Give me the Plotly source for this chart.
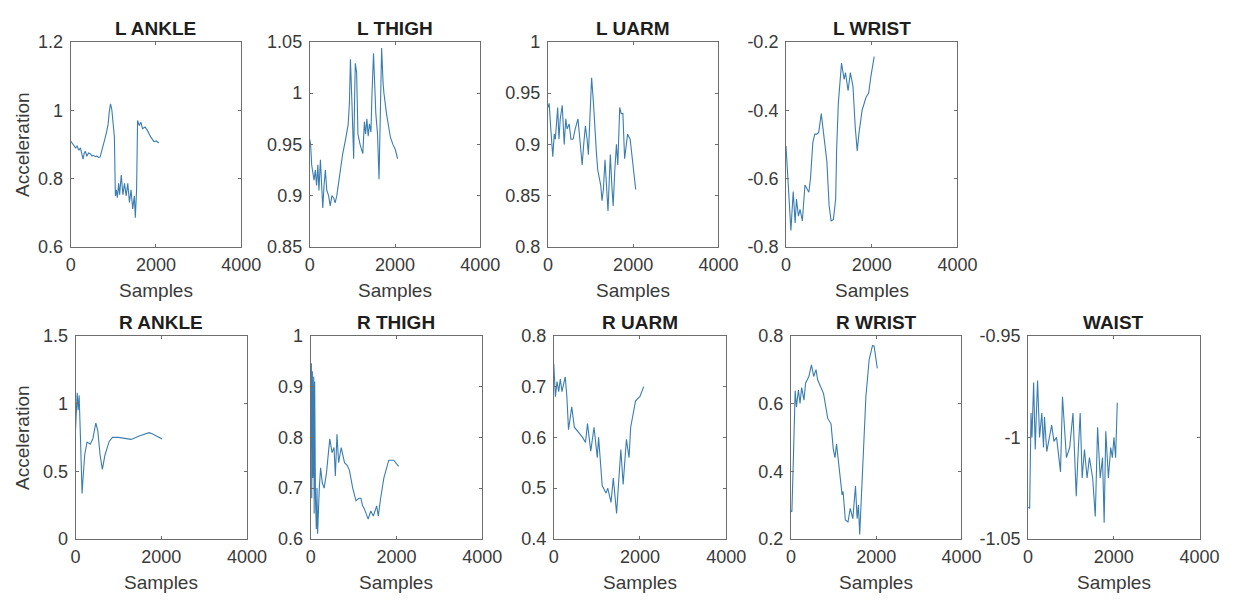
import plotly.graph_objects as go

# ---- accelerometer traces (sample index, acceleration) ----
L_ANKLE_SAMPLES = [0, 60, 115, 150, 190, 230, 260, 290, 320, 345, 380, 420, 460, 500, 536, 580, 613, 650, 690, 730, 766, 800, 843, 880, 904, 935, 965, 996, 1026, 1049, 1072, 1095, 1126, 1149, 1187, 1226, 1264, 1302, 1340, 1379, 1417, 1455, 1494, 1517, 1547, 1570, 1609, 1647, 1685, 1747, 1800, 1877, 1953, 2007, 2068]
L_ANKLE_ACC = [0.91, 0.90, 0.89, 0.895, 0.883, 0.89, 0.87, 0.857, 0.875, 0.88, 0.865, 0.875, 0.873, 0.866, 0.868, 0.864, 0.866, 0.862, 0.863, 0.88, 0.899, 0.915, 0.937, 0.96, 0.993, 1.019, 1.002, 0.955, 0.922, 0.749, 0.767, 0.744, 0.786, 0.753, 0.81, 0.753, 0.786, 0.749, 0.786, 0.73, 0.767, 0.711, 0.749, 0.685, 0.767, 0.97, 0.955, 0.965, 0.946, 0.951, 0.941, 0.922, 0.908, 0.91, 0.904]

L_THIGH_SAMPLES = [0, 20, 45, 76, 100, 130, 160, 190, 215, 250, 275, 305, 335, 366, 400, 442, 480, 520, 557, 595, 634, 700, 770, 840, 900, 930, 954, 990, 1030, 1050, 1068, 1100, 1130, 1180, 1244, 1282, 1310, 1340, 1370, 1400, 1435, 1460, 1496, 1550, 1590, 1625, 1650, 1686, 1720, 1740, 1800, 1850, 1892, 1950, 2007, 2060]
L_THIGH_ACC = [0.955, 0.95, 0.93, 0.92, 0.915, 0.925, 0.91, 0.93, 0.905, 0.935, 0.905, 0.888, 0.91, 0.925, 0.905, 0.90, 0.89, 0.90, 0.898, 0.893, 0.90, 0.92, 0.94, 0.955, 0.969, 0.99, 1.033, 0.99, 0.936, 0.99, 1.029, 1.02, 0.96, 0.95, 0.941, 0.972, 0.96, 0.975, 0.958, 0.97, 0.962, 1.0, 1.039, 0.98, 0.96, 0.916, 0.96, 1.044, 1.01, 1.0, 0.98, 0.965, 0.957, 0.95, 0.945, 0.936]

L_UARM_SAMPLES = [0, 30, 60, 115, 150, 175, 230, 260, 290, 337, 383, 420, 450, 500, 540, 590, 640, 705, 750, 804, 840, 880, 920, 950, 990, 1026, 1070, 1100, 1141, 1170, 1203, 1240, 1270, 1302, 1340, 1380, 1410, 1440, 1465, 1500, 1532, 1570, 1608, 1640, 1685, 1720, 1760, 1800, 1835, 1870, 1930, 1992, 2030, 2060]
L_UARM_ACC = [0.936, 0.94, 0.92, 0.888, 0.91, 0.905, 0.936, 0.905, 0.925, 0.938, 0.90, 0.925, 0.915, 0.92, 0.905, 0.905, 0.915, 0.925, 0.905, 0.88, 0.90, 0.918, 0.905, 0.89, 0.93, 0.965, 0.94, 0.915, 0.89, 0.875, 0.867, 0.86, 0.845, 0.856, 0.885, 0.86, 0.835, 0.865, 0.89, 0.86, 0.84, 0.875, 0.90, 0.88, 0.936, 0.93, 0.93, 0.886, 0.90, 0.91, 0.905, 0.88, 0.87, 0.856]

L_WRIST_SAMPLES = [0, 38, 76, 114, 168, 213, 244, 290, 328, 381, 442, 490, 533, 571, 625, 670, 720, 762, 823, 860, 900, 953, 1006, 1052, 1105, 1158, 1181, 1220, 1295, 1356, 1387, 1448, 1501, 1562, 1615, 1661, 1699, 1775, 1867, 1928, 1981, 2057]
L_WRIST_ACC = [-0.505, -0.58, -0.66, -0.752, -0.638, -0.73, -0.66, -0.71, -0.69, -0.724, -0.619, -0.63, -0.64, -0.60, -0.495, -0.47, -0.47, -0.465, -0.41, -0.45, -0.50, -0.55, -0.68, -0.724, -0.72, -0.66, -0.514, -0.38, -0.262, -0.31, -0.29, -0.343, -0.29, -0.33, -0.45, -0.519, -0.47, -0.40, -0.362, -0.35, -0.30, -0.243]

R_ANKLE_SAMPLES = [0, 20, 38, 60, 84, 114, 152, 175, 213, 267, 343, 404, 472, 518, 572, 625, 686, 785, 861, 1000, 1105, 1295, 1486, 1600, 1715, 1800, 1905, 2019]
R_ANKLE_ACC = [0.81, 0.95, 1.08, 0.95, 1.06, 0.75, 0.336, 0.45, 0.62, 0.715, 0.70, 0.74, 0.856, 0.80, 0.62, 0.513, 0.62, 0.72, 0.75, 0.75, 0.745, 0.735, 0.76, 0.77, 0.785, 0.775, 0.76, 0.738]

R_THIGH_SAMPLES = [0, 15, 23, 38, 50, 69, 80, 92, 110, 130, 145, 160, 200, 230, 270, 313, 367, 444, 497, 543, 574, 612, 650, 711, 788, 850, 903, 979, 1056, 1120, 1170, 1210, 1247, 1339, 1400, 1460, 1538, 1576, 1630, 1706, 1820, 1935, 2050]
R_THIGH_ACC = [0.78, 0.946, 0.68, 0.93, 0.72, 0.92, 0.65, 0.91, 0.68, 0.619, 0.70, 0.61, 0.70, 0.74, 0.71, 0.70, 0.73, 0.797, 0.77, 0.78, 0.724, 0.806, 0.75, 0.78, 0.75, 0.745, 0.735, 0.70, 0.675, 0.68, 0.68, 0.665, 0.66, 0.639, 0.655, 0.645, 0.665, 0.645, 0.68, 0.72, 0.755, 0.755, 0.743]

R_UARM_SAMPLES = [0, 38, 76, 114, 152, 190, 266, 304, 342, 417, 478, 569, 668, 736, 782, 858, 934, 1009, 1040, 1123, 1214, 1252, 1328, 1381, 1457, 1503, 1556, 1609, 1685, 1746, 1784, 1897, 1996, 2087]
R_UARM_ACC = [0.745, 0.68, 0.71, 0.69, 0.715, 0.69, 0.719, 0.68, 0.615, 0.66, 0.62, 0.611, 0.60, 0.59, 0.627, 0.573, 0.62, 0.56, 0.60, 0.505, 0.49, 0.50, 0.472, 0.52, 0.45, 0.51, 0.576, 0.507, 0.596, 0.56, 0.62, 0.672, 0.68, 0.70]

R_WRIST_SAMPLES = [0, 23, 61, 100, 130, 176, 214, 252, 306, 344, 421, 482, 535, 589, 627, 688, 765, 864, 941, 994, 1033, 1071, 1132, 1170, 1201, 1224, 1277, 1339, 1392, 1453, 1515, 1553, 1584, 1614, 1660, 1698, 1759, 1836, 1913, 1951, 1989, 2027]
R_WRIST_ACC = [0.284, 0.28, 0.45, 0.638, 0.59, 0.64, 0.60, 0.647, 0.61, 0.66, 0.68, 0.714, 0.68, 0.70, 0.67, 0.65, 0.63, 0.556, 0.54, 0.466, 0.44, 0.48, 0.40, 0.37, 0.33, 0.34, 0.256, 0.25, 0.29, 0.26, 0.356, 0.26, 0.30, 0.213, 0.34, 0.47, 0.62, 0.73, 0.771, 0.77, 0.74, 0.704]

WAIST_SAMPLES = [0, 38, 69, 92, 130, 168, 191, 222, 268, 321, 360, 383, 436, 497, 551, 604, 665, 757, 803, 895, 971, 1048, 1124, 1163, 1216, 1262, 1316, 1377, 1431, 1507, 1568, 1622, 1683, 1737, 1775, 1813, 1874, 1928, 1966, 2004, 2042, 2081]
WAIST_ACC = [-1.0344, -1.035, -0.988, -1.0, -0.973, -1.006, -0.99, -0.972, -1.0, -0.988, -1.005, -0.99, -1.007, -1.0, -0.994, -1.002, -1.0, -1.017, -0.98, -1.01, -1.005, -0.988, -1.029, -1.01, -0.988, -1.02, -1.006, -1.02, -1.01, -1.02, -1.039, -0.995, -1.02, -1.01, -1.042, -0.997, -1.02, -1.005, -1.01, -1.0, -1.01, -0.983]

# ---- panel titles and y tick labels ----
TITLES = ["L ANKLE", "L THIGH", "L UARM", "L WRIST",
          "R ANKLE", "R THIGH", "R UARM", "R WRIST", "WAIST"]
X_TICKS = [0, 2000, 4000]
Y_TICKS = [
    [0.6, 0.8, 1.0, 1.2],
    [0.85, 0.9, 0.95, 1.0, 1.05],
    [0.8, 0.85, 0.9, 0.95, 1.0],
    [-0.8, -0.6, -0.4, -0.2],
    [0, 0.5, 1.0, 1.5],
    [0.6, 0.7, 0.8, 0.9, 1.0],
    [0.4, 0.5, 0.6, 0.7, 0.8],
    [0.2, 0.4, 0.6, 0.8],
    [-1.05, -1.0, -0.95],
]
Y_TICK_TEXT = [
    ["0.6", "0.8", "1", "1.2"],
    ["0.85", "0.9", "0.95", "1", "1.05"],
    ["0.8", "0.85", "0.9", "0.95", "1"],
    ["-0.8", "-0.6", "-0.4", "-0.2"],
    ["0", "0.5", "1", "1.5"],
    ["0.6", "0.7", "0.8", "0.9", "1"],
    ["0.4", "0.5", "0.6", "0.7", "0.8"],
    ["0.2", "0.4", "0.6", "0.8"],
    ["-1.05", "-1", "-0.95"],
]
SERIES = [
    (L_ANKLE_SAMPLES, L_ANKLE_ACC), (L_THIGH_SAMPLES, L_THIGH_ACC),
    (L_UARM_SAMPLES, L_UARM_ACC), (L_WRIST_SAMPLES, L_WRIST_ACC),
    (R_ANKLE_SAMPLES, R_ANKLE_ACC), (R_THIGH_SAMPLES, R_THIGH_ACC),
    (R_UARM_SAMPLES, R_UARM_ACC), (R_WRIST_SAMPLES, R_WRIST_ACC),
    (WAIST_SAMPLES, WAIST_ACC),
]

# ---- page geometry (pixels) ----
W, H = 1246, 604
BOXES = [  # left, right, top, bottom
    (67, 241, 33, 245), (311, 485, 33, 245), (554, 728, 33, 245), (797, 972, 33, 245),
    (72, 247, 337, 547), (312, 487, 337, 547), (560, 736, 337, 547),
    (802, 976, 337, 547), (1044, 1219, 337, 547),
]

FONT = "Liberation Sans, Arial, sans-serif"
LINE_COLOR = "#3a7db0"
AXIS_COLOR = "#6e6e6e"
TEXT_COLOR = "#3a3a3a"

fig = go.Figure()
layout = dict(
    width=W, height=H, margin=dict(l=0, r=0, t=0, b=0),
    paper_bgcolor="white", plot_bgcolor="white", showlegend=False,
    font=dict(family=FONT, color=TEXT_COLOR),
)
annotations = []

for i, ((xs, ys), (x0, x1, y0, y1)) in enumerate(zip(SERIES, BOXES)):
    n = i + 1
    xa, ya = f"xaxis{n}", f"yaxis{n}"
    fig.add_trace(go.Scatter(
        x=xs, y=ys, mode="lines",
        line=dict(color=LINE_COLOR, width=1.1),
        xaxis=f"x{n}", yaxis=f"y{n}", hoverinfo="skip",
    ))
    yt = Y_TICKS[i]
    common = dict(
        showline=True, linecolor=AXIS_COLOR, linewidth=1, mirror="allticks",
        ticks="inside", ticklen=3, tickcolor=AXIS_COLOR, tickwidth=1,
        showgrid=False, zeroline=False, fixedrange=True,
        tickfont=dict(family=FONT, size=18, color=TEXT_COLOR),
    )
    layout[xa] = dict(
        domain=[x0 / W, x1 / W], anchor=f"y{n}", range=[0, 4000],
        tickvals=X_TICKS, ticktext=[str(v) for v in X_TICKS],
        ticklabelstandoff=2, **common,
    )
    layout[ya] = dict(
        domain=[1 - y1 / H, 1 - y0 / H], anchor=f"x{n}", range=[yt[0], yt[-1]],
        tickvals=yt, ticktext=Y_TICK_TEXT[i], ticklabelstandoff=3, **common,
    )
    cx = (x0 + x1) / 2 / W
    annotations.append(dict(
        text=f"<b>{TITLES[i]}</b>", x=cx, y=1 - (y0 - 14) / H,
        xref="paper", yref="paper", xanchor="center", yanchor="middle",
        showarrow=False, font=dict(family=FONT, size=19, color="#1e1e1e"),
    ))
    annotations.append(dict(
        text="Samples", x=cx, y=1 - (y1 + 45) / H,
        xref="paper", yref="paper", xanchor="center", yanchor="middle",
        showarrow=False, font=dict(family=FONT, size=19, color=TEXT_COLOR),
    ))
    if i in (0, 4):
        annotations.append(dict(
            text="Acceleration", x=18 / W, y=1 - (y0 + y1) / 2 / H,
            xref="paper", yref="paper", xanchor="center", yanchor="middle",
            textangle=-90, showarrow=False,
            font=dict(family=FONT, size=19, color=TEXT_COLOR),
        ))

layout["annotations"] = annotations
fig.update_layout(**layout)
fig.write_html("out.html")
